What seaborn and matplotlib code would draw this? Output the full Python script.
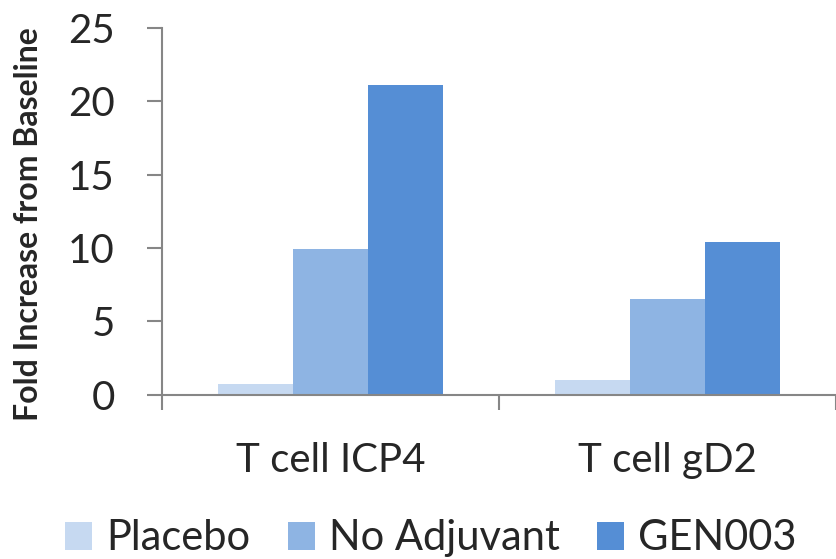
import matplotlib
matplotlib.use("Agg")
import matplotlib.pyplot as plt
import seaborn as sns
import pandas as pd
from matplotlib.ticker import FixedLocator
from matplotlib.patches import Patch

# Data
categories = ["T cell ICP4", "T cell gD2"]
groups = ["Placebo", "No Adjuvant", "GEN003"]
placebo = [0.7, 1.0]
no_adjuvant = [9.9, 6.5]
gen003 = [21.1, 10.4]
colors = ["#C6D9F1", "#8EB4E3", "#558ED5"]

df = pd.DataFrame({
    "category": categories * 3,
    "group": [groups[0]] * 2 + [groups[1]] * 2 + [groups[2]] * 2,
    "value": placebo + no_adjuvant + gen003,
})

sns.set_theme(style="white")
plt.rcParams["font.family"] = ["Lato", "DejaVu Sans"]

fig = plt.figure(figsize=(8.37, 5.59), dpi=100)
ax = fig.add_axes([162 / 837, (559 - 394.7) / 559, (836 - 162) / 837, (394.7 - 28) / 559])

sns.barplot(data=df, x="category", y="value", hue="group", order=categories,
            hue_order=groups, palette=colors, width=0.667, gap=0,
            saturation=1, linewidth=0, ax=ax, legend=False)

axis_gray = "#868686"
ax.set_xlim(-0.5, 1.5)
ax.set_ylim(0, 25)
ax.set_yticks([0, 5, 10, 15, 20, 25])
ax.set_xlabel("")
ax.set_ylabel("Fold Increase from Baseline", fontsize=23, fontweight="bold")
ax.yaxis.set_label_coords(-0.176, 0.465)

for side in ["top", "right"]:
    ax.spines[side].set_visible(False)
for side in ["left", "bottom"]:
    ax.spines[side].set_color(axis_gray)
    ax.spines[side].set_linewidth(1.5)

ax.tick_params(axis="y", which="major", direction="out", length=11,
               width=1.5, color=axis_gray, labelsize=29, pad=23, left=True)
ax.tick_params(axis="x", which="major", length=0, labelsize=29, pad=34)
ax.xaxis.set_minor_locator(FixedLocator([-0.5, 0.5, 1.5]))
ax.tick_params(axis="x", which="minor", direction="out", length=11,
               width=1.5, color=axis_gray, bottom=True)

handles = [Patch(facecolor=c, edgecolor="none", label=g) for g, c in zip(groups, colors)]
fig.legend(handles=handles, loc="center", bbox_to_anchor=(0.515, 0.037),
           ncol=3, frameon=False, fontsize=30, handlelength=0.65,
           handleheight=0.65, handletextpad=0.34, columnspacing=0.89,
           borderpad=0, borderaxespad=0)

fig.savefig("out.png", dpi=100)
